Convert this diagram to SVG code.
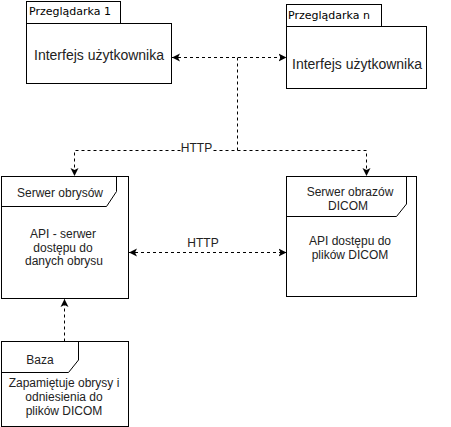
<svg xmlns="http://www.w3.org/2000/svg" width="451" height="427" viewBox="0 0 451 427">
  <defs>
    <marker id="arr" markerUnits="userSpaceOnUse" markerWidth="10" markerHeight="10" refX="8" refY="4" orient="auto-start-reverse" viewBox="0 0 10 8">
      <path d="M0,0 L8,4 L0,8 L2,4 Z" fill="#000"/>
    </marker>
    <style>
      .box { fill: #fff; stroke: #000; stroke-width: 1; }
      .hdr { fill: none; stroke: #000; stroke-width: 1; }
      .edge { fill: none; stroke: #000; stroke-width: 1; stroke-dasharray: 3 3; }
      .tab { font-family: "DejaVu Sans", sans-serif; font-size: 11px; fill: #000; }
      .big { font-family: "Liberation Sans", Arial, sans-serif; font-size: 14px; fill: #222; text-anchor: middle; }
      .t { font-family: "Liberation Sans", Arial, sans-serif; font-size: 12px; fill: #222; text-anchor: middle; }
    </style>
  </defs>
  <rect width="451" height="427" fill="#fff"/>

  <g id="connectors">
    <path class="edge" d="M172,57.5 H286.5" marker-start="url(#arr)" marker-end="url(#arr)"/>
    <path class="edge" d="M237.5,57.5 V150.5 H74.5 V176"  marker-end="url(#arr)"/>
    <path class="edge" d="M237.5,150.5 H366.5 V176" marker-end="url(#arr)"/>
    <rect x="181" y="142" width="31" height="12" fill="#fff"/>
    <text class="t" x="196.5" y="152">HTTP</text>
    <path class="edge" d="M129,252.5 H286.5" marker-start="url(#arr)" marker-end="url(#arr)"/>
    <text class="t" x="203" y="246.5">HTTP</text>
    <path class="edge" d="M64.5,341.5 V299" marker-end="url(#arr)"/>
  </g>

  <g id="przegladarka1">
    <rect class="box" x="26.5" y="1.5" width="94" height="22"/>
    <rect class="box" x="26.5" y="23.5" width="145" height="60"/>
    <text class="tab" x="29" y="14.5">Przeglądarka 1</text>
    <text class="big" x="99" y="60">Interfejs użytkownika</text>
  </g>

  <g id="przegladarkan">
    <rect class="box" x="286.5" y="4.5" width="95" height="22"/>
    <rect class="box" x="286.5" y="26.5" width="140" height="62"/>
    <text class="tab" x="288" y="18.5">Przeglądarka n</text>
    <text class="big" x="357" y="69">Interfejs użytkownika</text>
  </g>

  <g id="serwer-obrysow">
    <rect class="box" x="1.5" y="176.5" width="127" height="122"/>
    <path class="hdr" d="M1.5,206.5 H106.5 L116.5,191.5 V176.5"/>
    <text class="t" x="60" y="197">Serwer obrysów</text>
    <text class="t" x="63" y="238">API - serwer</text>
    <text class="t" x="63" y="251.5">dostępu do</text>
    <text class="t" x="64" y="265">danych obrysu</text>
  </g>

  <g id="serwer-obrazow">
    <rect class="box" x="286.5" y="176.5" width="130" height="120"/>
    <path class="hdr" d="M286.5,216.5 H396.5 L406.5,204 V176.5"/>
    <text class="t" x="350" y="195.5">Serwer obrazów</text>
    <text class="t" x="348" y="210">DICOM</text>
    <text class="t" x="350" y="244.5">API dostępu do</text>
    <text class="t" x="350" y="259">plików DICOM</text>
  </g>

  <g id="baza">
    <rect class="box" x="1.5" y="341.5" width="127" height="85"/>
    <path class="hdr" d="M1.5,372.5 H68.5 L78.5,360 V341.5"/>
    <text class="t" x="40" y="363.5">Baza</text>
    <text class="t" x="64" y="387">Zapamiętuje obrysy i</text>
    <text class="t" x="64" y="400.5">odniesienia do</text>
    <text class="t" x="64" y="414.5">plików DICOM</text>
  </g>
</svg>
